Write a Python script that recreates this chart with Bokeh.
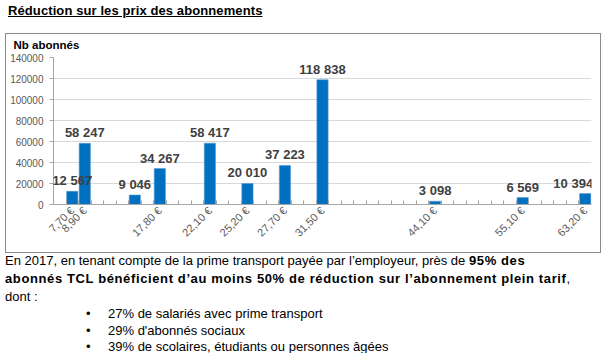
import math
from bokeh.plotting import figure
from bokeh.layouts import column
from bokeh.core.properties import value
from bokeh.models import Range1d, FixedTicker, LabelSet, ColumnDataSource, Div
from bokeh.embed import file_html
from bokeh.resources import INLINE

# ---------------- data ----------------
slots = [1, 2, 6, 8, 12, 15, 18, 21, 30, 37, 42]          # category slot of each bar
values = [12567, 58247, 9046, 34267, 58417, 20010, 37223, 118838, 3098, 6569, 10394]
price_labels = ["7,70 €", "8,90 €", "", "17,80 €", "22,10 €", "25,20 €",
                "27,70 €", "31,50 €", "44,10 €", "55,10 €", "63,20 €"]
y_ticks = [0, 20000, 40000, 60000, 80000, 100000, 120000, 140000]
n_slots = 43

title = "Réduction sur les prix des abonnements"
y_title = "Nb abonnés"
line1_reg = "En 2017, en tenant compte de la prime transport payée par l’employeur, près de "
line1_bold = "95% des"
line2_bold = "abonnés TCL bénéficient d’au moins 50% de réduction sur l’abonnement plein tarif"
line2_reg = ","
line3 = "dont :"
bullets = ["27% de salariés avec prime transport",
           "29% d'abonnés sociaux",
           "39% de scolaires, étudiants ou personnes âgées"]

# ---------------- style ----------------
FONT = "Liberation Sans"
BAR = "#0070C0"
LBL = "#404040"
AX = "#595959"
label_shift = [0, 0, 0, 0, 0, 0, 0, 0, 0, 0, -12]   # keep last value label inside the chart

p = figure(width=596, height=220, output_backend="svg", toolbar_location=None,
           x_range=Range1d(-0.5, n_slots - 0.5), y_range=Range1d(0, 140000),
           min_border_left=48, min_border_right=10, min_border_top=24,
           min_border_bottom=49, background_fill_color="white",
           border_fill_color=None, outline_line_color=None,
           margin=(0, 0, 0, 5),
           styles={"box-shadow": "inset 0 0 0 1px #8C8C8C",
                   "background-color": "white"})

p.title.text = y_title
p.title.align = "left"
p.title.vertical_align = "top"
p.title.offset = -40
p.title.text_font = FONT
p.title.text_font_size = "11.5px"
p.title.text_font_style = "bold"
p.title.text_color = "#000000"
p.title.standoff = 10

src = ColumnDataSource(dict(x=slots, top=values, dx=label_shift,
                            txt=[f"{v:,}".replace(",", " ") for v in values]))
p.vbar(x="x", top="top", width=0.9, source=src, fill_color=BAR,
       line_color="#5B9BD5", line_width=0.6)

p.add_layout(LabelSet(x="x", y="top", text="txt", source=src, x_offset="dx",
                      text_align="center", text_baseline="alphabetic", y_offset=6,
                      text_font=value(FONT), text_font_size=value("13px"),
                      text_font_style=value("bold"), text_color=value(LBL)))

# axes
lab_slots = [s for s, l in zip(slots, price_labels) if l]
p.xaxis.ticker = FixedTicker(ticks=lab_slots,
                             minor_ticks=[k - 0.5 for k in range(1, n_slots)])
p.xaxis.major_label_overrides = {s: l for s, l in zip(slots, price_labels) if l}
p.xaxis.major_label_orientation = math.pi / 4
p.xaxis.major_tick_in = 0
p.xaxis.major_tick_out = 0
p.xaxis.minor_tick_in = 4
p.xaxis.minor_tick_out = 0
p.xaxis.minor_tick_line_color = "#A6A6A6"
p.xaxis.axis_line_color = "#A6A6A6"
p.xaxis.major_label_text_font = FONT
p.xaxis.major_label_text_font_size = "11px"
p.xaxis.major_label_text_color = AX
p.xaxis.major_label_standoff = 4

p.yaxis.ticker = FixedTicker(ticks=y_ticks)
p.yaxis.major_label_overrides = {t: str(t) for t in y_ticks}
p.yaxis.minor_tick_line_color = None
p.yaxis.major_tick_in = 0
p.yaxis.major_tick_out = 4
p.yaxis.major_tick_line_color = "#A6A6A6"
p.yaxis.axis_line_color = "#A6A6A6"
p.yaxis.major_label_text_font = FONT
p.yaxis.major_label_text_font_size = "10px"
p.yaxis.major_label_text_color = AX
p.yaxis.major_label_standoff = 6

p.xgrid.grid_line_color = None
p.ygrid.ticker = FixedTicker(ticks=y_ticks)
p.ygrid.grid_line_color = "#D9D9D9"

# ---------------- texts around the chart ----------------
title_div = Div(width=608, height=33, margin=0, text=(
    f'<div style="font-family:\'{FONT}\';font-weight:bold;font-size:13px;'
    f'text-decoration:underline;padding:3px 0 0 8px;line-height:16px;'
    f'letter-spacing:0.1px;white-space:nowrap;color:#000">{title}</div>'))

B = 'style="letter-spacing:0.62px"'
bullet_html = "".join(
    f'<div style="line-height:16.5px;margin-left:81px"><span style="display:inline-block;'
    f'width:22px">•</span>{b}</div>' for b in bullets)
text_div = Div(width=608, height=100, margin=0, text=(
    f'<div style="font-family:\'{FONT}\';font-size:13px;color:#000;line-height:18px;'
    f'white-space:nowrap;padding-left:5px;margin-top:-1px">'
    f'<div>{line1_reg}<b {B}>{line1_bold}</b></div>'
    f'<div><b {B}>{line2_bold}</b>{line2_reg}</div>'
    f'<div>{line3}</div>{bullet_html}</div>'))

layout = column(title_div, p, text_div, spacing=0)
open("out.html", "w").write(file_html(layout, INLINE))
